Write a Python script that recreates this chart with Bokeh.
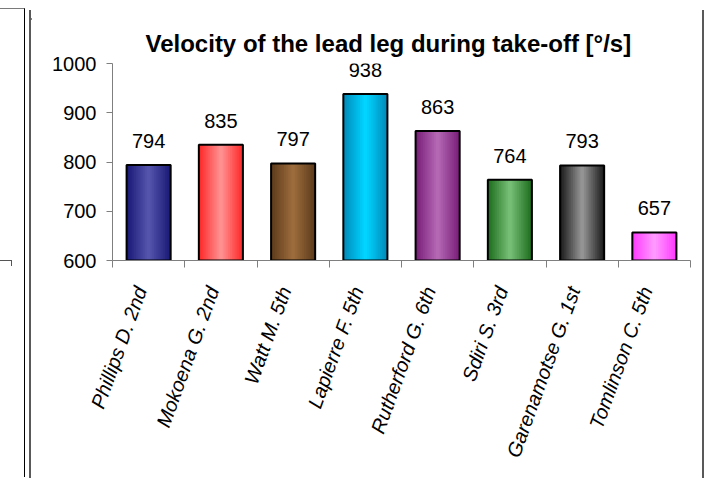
import numpy as np
from bokeh.plotting import figure
from bokeh.models import Range1d, FixedTicker, Div, Spacer
from bokeh.layouts import row, column
from bokeh.embed import file_html
from bokeh.resources import INLINE
from bokeh.core.properties import value

# ---- data ----
athletes = ["Phillips D. 2nd", "Mokoena G. 2nd", "Watt M. 5th", "Lapierre F. 5th",
            "Rutherford G. 6th", "Sdiri S. 3rd", "Garenamotse G. 1st", "Tomlinson C. 5th"]
velocity = [794, 835, 797, 938, 863, 764, 793, 657]
edge_colors = ["#1b1b78", "#ff2a2a", "#5e3c1c", "#008cbc", "#7a1f7a", "#1f6e1f", "#1e1e1e", "#ff3cff"]
center_colors = ["#5454ac", "#ff9090", "#9c6c3c", "#00d4ff", "#b468b4", "#76be76", "#949494", "#ff98ff"]
y_ticks = [600, 700, 800, 900, 1000]
title_text = "Velocity of the lead leg during take-off [°/s]"

FONT = "Liberation Sans"
AXIS_GRAY = "#7f7f7f"
BOX_GRAY = "#595959"
LABEL_SHIFT = 0.11   # nudges rotated category labels so their ends sit at the bar centre


def mix(c1, c2, t):
    a = [int(c1[i:i + 2], 16) for i in (1, 3, 5)]
    b = [int(c2[i:i + 2], 16) for i in (1, 3, 5)]
    return "#%02x%02x%02x" % tuple(int(round(x + (y - x) * t)) for x, y in zip(a, b))


n = len(athletes)
xpos = [i + 0.5 for i in range(n)]

p = figure(width=671, height=468, x_range=Range1d(0, n), y_range=Range1d(y_ticks[0], y_ticks[-1]),
           output_backend="svg", toolbar_location=None,
           min_border_left=81, min_border_right=12, min_border_top=53, min_border_bottom=218,
           outline_line_color=None, background_fill_color="white", border_fill_color="white")
p.xgrid.visible = False
p.ygrid.visible = False

p.title.text = title_text
p.title.align = "left"
p.title.offset = 33
p.title.text_font = FONT
p.title.text_font_size = "24px"
p.title.text_font_style = "bold"
p.title.text_color = "black"
p.title.standoff = 14

# bars with horizontal gradient (layered)
bar_w = 0.61
N = 12
for k in range(N):
    t = k / (N - 1)
    w = bar_w * (1 - k / N)
    cols = [mix(e, c, t) for e, c in zip(edge_colors, center_colors)]
    p.vbar(x=xpos, top=velocity, bottom=y_ticks[0], width=w, fill_color=cols, line_color=None)
p.vbar(x=xpos, top=velocity, bottom=y_ticks[0], width=bar_w, fill_color=None,
       line_color="black", line_width=2)

p.text(x=xpos, y=velocity, text=[str(v) for v in velocity], text_align="center",
       text_baseline="alphabetic", y_offset=-24, text_font=value(FONT),
       text_font_size="20px", text_color="black")

# y axis
yax = p.yaxis[0]
yax.ticker = FixedTicker(ticks=y_ticks)
yax.axis_line_color = AXIS_GRAY
yax.major_tick_line_color = AXIS_GRAY
yax.major_tick_out = 6
yax.major_tick_in = 0
yax.minor_tick_line_color = None
yax.major_label_standoff = 10
yax.major_label_text_font = FONT
yax.major_label_text_font_size = "20px"
yax.major_label_text_color = "black"

# x axis: boundary ticks as minor ticks, names as labels
label_pos = [x - LABEL_SHIFT for x in xpos]
xax = p.xaxis[0]
xax.ticker = FixedTicker(ticks=label_pos, minor_ticks=list(range(n + 1)))
xax.major_label_overrides = {x: name for x, name in zip(label_pos, athletes)}
xax.axis_line_color = AXIS_GRAY
xax.major_tick_out = 0
xax.major_tick_in = 0
xax.minor_tick_out = 7
xax.minor_tick_in = 0
xax.minor_tick_line_color = AXIS_GRAY
xax.major_label_orientation = np.deg2rad(70)
xax.major_label_standoff = 20
xax.major_label_text_font = FONT
xax.major_label_text_font_size = "20px"
xax.major_label_text_font_style = "italic"
xax.major_label_text_color = "black"

# frame decorations (chart box and neighbouring chart fragment)
frag = Div(width=26, height=470, margin=0,
           text='<div style="position:relative;width:25px;height:469px;border-top:1px solid #7a7a7a;'
                'border-right:1px solid #000"><div style="position:absolute;left:0;top:251px;'
                'width:12px;height:6px;border-top:1px solid #555;border-right:1px solid #555"></div></div>')
top_line = Div(width=675, height=2, margin=0,
               text='<div style="width:675px;height:2px;background:%s"></div>' % BOX_GRAY)
left_line = Div(width=2, height=468, margin=0,
                text='<div style="width:2px;height:468px;background:%s"></div>' % BOX_GRAY)
right_line = Div(width=2, height=468, margin=0,
                 text='<div style="width:2px;height:468px;background:%s"></div>' % BOX_GRAY)
gap = Spacer(width=3, height=470, margin=0)
top_pad = Spacer(width=704, height=8, margin=0)

box = column(top_line, row(left_line, p, right_line, spacing=0), spacing=0)
root = column(top_pad, row(frag, gap, box, spacing=0), spacing=0)

open("out.html", "w").write(file_html(root, INLINE))
